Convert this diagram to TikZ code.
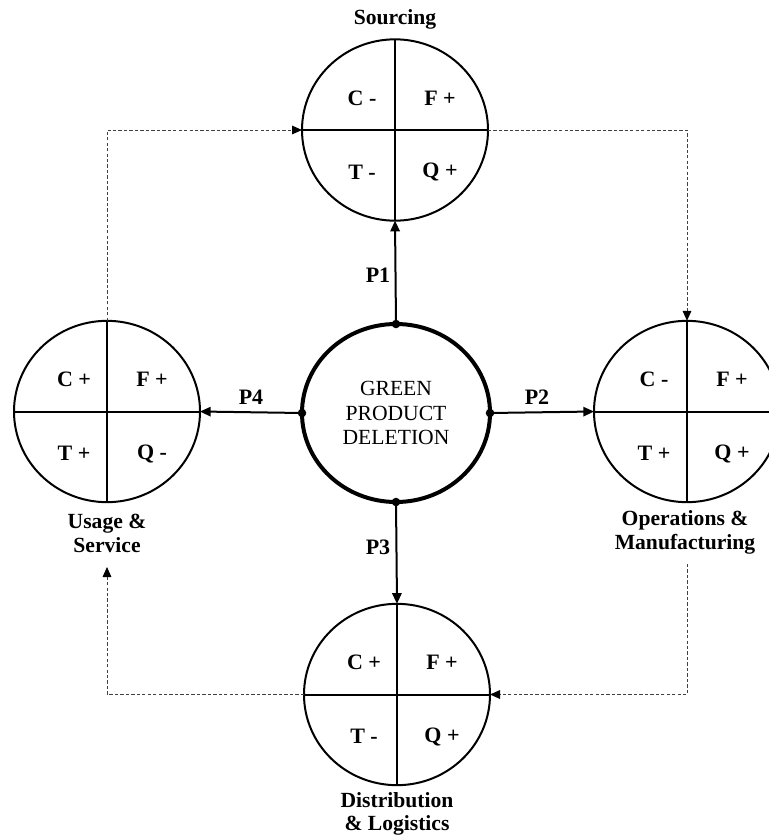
\documentclass[tikz,border=0pt]{standalone}
\usepackage{fontspec}
\setmainfont{Liberation Serif}
\usetikzlibrary{shapes.geometric,arrows.meta}

\tikzset{
  stage/.style={ellipse, draw, line width=1.5pt, minimum width=139.5pt,
    minimum height=136pt, inner sep=0pt, outer sep=0pt},
  core/.style={ellipse, draw, line width=3pt, minimum width=141pt,
    minimum height=133.5pt, inner sep=0pt, outer sep=0pt, align=center,
    font=\fontsize{16.2}{18.4}\selectfont},
  quad/.style={inner sep=0pt, font=\fontsize{16.5}{18}\selectfont\bfseries},
  caption/.style={inner sep=0pt, align=center,
    font=\fontsize{16.2}{17.8}\selectfont\bfseries},
  flow/.style={line width=1.5pt, -{Triangle[length=8pt,width=7pt]}},
  feedback/.style={line width=0.75pt, draw=black!75, dash pattern=on 2.5pt off 1.6pt,
    -{Triangle[length=7.5pt,width=6.5pt,fill=black,color=black]}},
  joint/.style={fill=black},
}

% four quadrant labels around a stage circle
\newcommand\stagequads[5]{%
  \node[quad] (#1C) at ([shift={(-33,-32)}]#1.center) {#2};
  \node[quad] (#1F) at ([shift={(45,-32)}]#1.center) {#3};
  \node[quad] (#1T) at ([shift={(-33,42)}]#1.center) {#4};
  \node[quad] (#1Q) at ([shift={(45,42)}]#1.center) {#5};
  \draw[line width=1.5pt] (#1.north) -- (#1.south);
  \draw[line width=1.5pt] (#1.west) -- (#1.east);
}

\begin{document}
\begin{tikzpicture}[x=0.75pt,y=-0.75pt]
  \fill[white] (0,0) rectangle (768,839);
  \useasboundingbox (0,0) rectangle (768,839);

  % stage circles
  \node[stage] (src)  at (395,130)   {};
  \node[stage] (ops)  at (687,411.5) {};
  \node[stage] (use)  at (107,411.5) {};
  \node[stage] (dist) at (397,694.5) {};
  \node[core]  (gpd)  at (396,413)   {GREEN\\PRODUCT\\DELETION};

  \stagequads{src}{C -}{F +}{T -}{Q +}
  \stagequads{ops}{C -}{F +}{T +}{Q +}
  \stagequads{use}{C +}{F +}{T +}{Q -}
  \stagequads{dist}{C +}{F +}{T -}{Q +}

  % stage captions
  \node[caption] (srcName)  at (395,19)    {Sourcing};
  \node[caption] (opsName)  at (685,532.5) {Operations \&\\Manufacturing};
  \node[caption] (useName)  at (107,533.5) {Usage \&\\Service};
  \node[caption] (distName) at (397,814)   {Distribution\\\& Logistics};

  % paths out of the central node
  \draw[flow] (gpd.north) -- (src.south);
  \draw[flow] (gpd.east)  -- (ops.west);
  \draw[flow] (gpd.south) -- (dist.north);
  \draw[flow] (gpd.west)  -- (use.east);
  \foreach \a in {north,east,south,west}
    \fill[joint] (gpd.\a) circle[radius=3.2pt];

  \node[quad] (p1) at (378,275) {P1};
  \node[quad] (p2) at (537,397) {P2};
  \node[quad] (p3) at (378,547) {P3};
  \node[quad] (p4) at (251,397) {P4};

  % dashed feedback loop between the stages
  \coordinate (opsTail) at (687,564);
  \coordinate (useHead) at (107,567);
  \draw[feedback] (use.north) |- (src.west);
  \draw[feedback] (src.east) -| (ops.north);
  \draw[feedback] (opsTail) |- (dist.east);
  \draw[feedback] (dist.west) -| (useHead);
\end{tikzpicture}
\end{document}
